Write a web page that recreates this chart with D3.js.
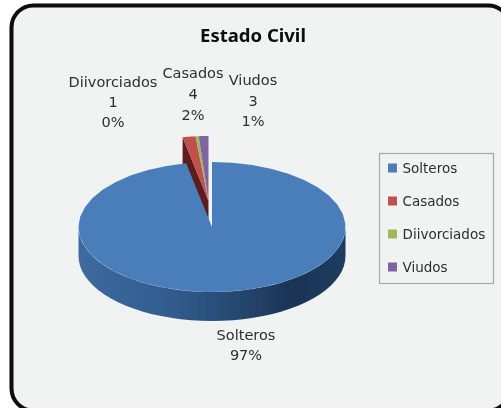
<!DOCTYPE html>
<html>
<head>
<meta charset="utf-8">
<script src="https://cdn.jsdelivr.net/npm/d3@7"></script>
<style>html,body{margin:0;padding:0;background:#fff;overflow:hidden}svg{display:block}</style>
</head>
<body>
<script>
const categories = ["Solteros", "Casados", "Diivorciados", "Viudos"];
const counts = [250, 4, 1, 3];
const percentLabels = ["97%", "2%", "0%", "1%"];
const colors = ["#4a7ebb", "#c0504d", "#9bbb59", "#8064a2"];
const sideColors = ["#2f5a8c", "#5e1c1a", "#4d6b25", "#4b3668"];

const W = 501, H = 408;
const svg = d3.select("body").append("svg").attr("width", W).attr("height", H)
  .style("font-family", "'DejaVu Sans', sans-serif");
const defs = svg.append("defs");
const blur = defs.append("filter").attr("id", "soft").attr("x", "-5%").attr("y", "-5%").attr("width", "110%").attr("height", "110%");
blur.append("feGaussianBlur").attr("stdDeviation", 0.5);
const grad = defs.append("linearGradient").attr("id", "side");
[[0, "#3d6a9f"], [0.35, "#315c8e"], [0.6, "#25476f"], [0.8, "#1b3454"], [1, "#1f3d60"]].forEach(([o, c]) =>
  grad.append("stop").attr("offset", o).attr("stop-color", c));
const dots = defs.append("pattern").attr("id", "dots").attr("width", 4).attr("height", 4).attr("patternUnits", "userSpaceOnUse");
dots.append("rect").attr("width", 4).attr("height", 4).attr("fill", "#f0f1f1");
dots.append("rect").attr("x", 1).attr("y", 1).attr("width", 1).attr("height", 1).attr("fill", "#f7f7f7");
dots.append("rect").attr("x", 3).attr("y", 3).attr("width", 1).attr("height", 1).attr("fill", "#f7f7f7");

const root = svg.append("g").attr("filter", "url(#soft)");
root.append("rect").attr("x", 11.5).attr("y", 5.5).attr("width", 498.5).attr("height", 405).attr("rx", 22)
  .attr("fill", "url(#dots)").attr("stroke", "#0b0b0b").attr("stroke-width", 4);

const pie = d3.pie().sort(null).value(d => d);
const arcs = pie(counts);
const rx = 133.5, ry = 65, depth = 29;
const pt = (cx, cy, a, dz = 0) => [cx + rx * Math.sin(a), cy - ry * Math.cos(a) + dz];
const line = d3.line();
const arcPts = (cx, cy, a0, a1, dz = 0) => d3.range(0, 41).map(i => pt(cx, cy, a0 + (a1 - a0) * i / 40, dz));
const wedge = (cx, cy, d) => line([[cx, cy], ...arcPts(cx, cy, d.startAngle, d.endAngle)]) + "Z";

const cx = 212, cy = 227;
const ex = 208.5, ey = 201;

// exploded small slices: cut side, then top faces
const small = arcs.slice(1);
const first = small[0];
root.append("path")
  .attr("d", line([[ex, ey], pt(ex, ey, first.startAngle), pt(ex, ey, first.startAngle, depth), [ex, ey + depth]]) + "Z")
  .attr("fill", sideColors[1]);
small.forEach(d => {
  root.append("path").attr("d", wedge(ex, ey, d)).attr("fill", colors[d.index]);
});

// main slice: front side wall and top face
const big = arcs[0];
const side = [...arcPts(cx, cy, Math.PI / 2, 3 * Math.PI / 2), ...arcPts(cx, cy, 3 * Math.PI / 2, Math.PI / 2, depth)];
root.append("path").attr("d", line(side) + "Z").attr("fill", "url(#side)");
root.append("path").attr("d", wedge(cx, cy, big)).attr("fill", colors[0]);

const text = (x, y, s, size, anchor = "middle", weight = 400, fill = "#2e2e2e", family = null) =>
  root.append("text").attr("x", x).attr("y", y).attr("text-anchor", anchor)
    .attr("font-size", size).attr("font-weight", weight).attr("fill", fill)
    .style("font-family", family).text(s);

text(253, 42, "Estado Civil", 18.5, "middle", 700, "#0c0c0c", "'Noto Sans', sans-serif");

// data labels
const labelPos = [[246, 340], [193, 78], [113, 87], [253, 85]];
const lineH = [20, 21, 20, 20.5];
categories.forEach((c, i) => {
  const [x, y] = labelPos[i];
  const rows = i === 0 ? [c, percentLabels[i]] : [c, counts[i], percentLabels[i]];
  rows.forEach((s, k) => text(x, y + k * lineH[i], s, 14.5));
});

// legend
root.append("rect").attr("x", 379.5).attr("y", 153.5).attr("width", 114).attr("height", 130)
  .attr("fill", "none").attr("stroke", "#a6a9ab").attr("stroke-width", 1.2);
const legendY = d3.scalePoint().domain(categories).range([168, 267]);
categories.forEach((c, i) => {
  root.append("rect").attr("x", 388).attr("y", legendY(c) - 4.5).attr("width", 9).attr("height", 9).attr("fill", colors[i]);
  text(402.5, legendY(c) + 4.5, c, 13.5, "start");
});
</script>
</body>
</html>
